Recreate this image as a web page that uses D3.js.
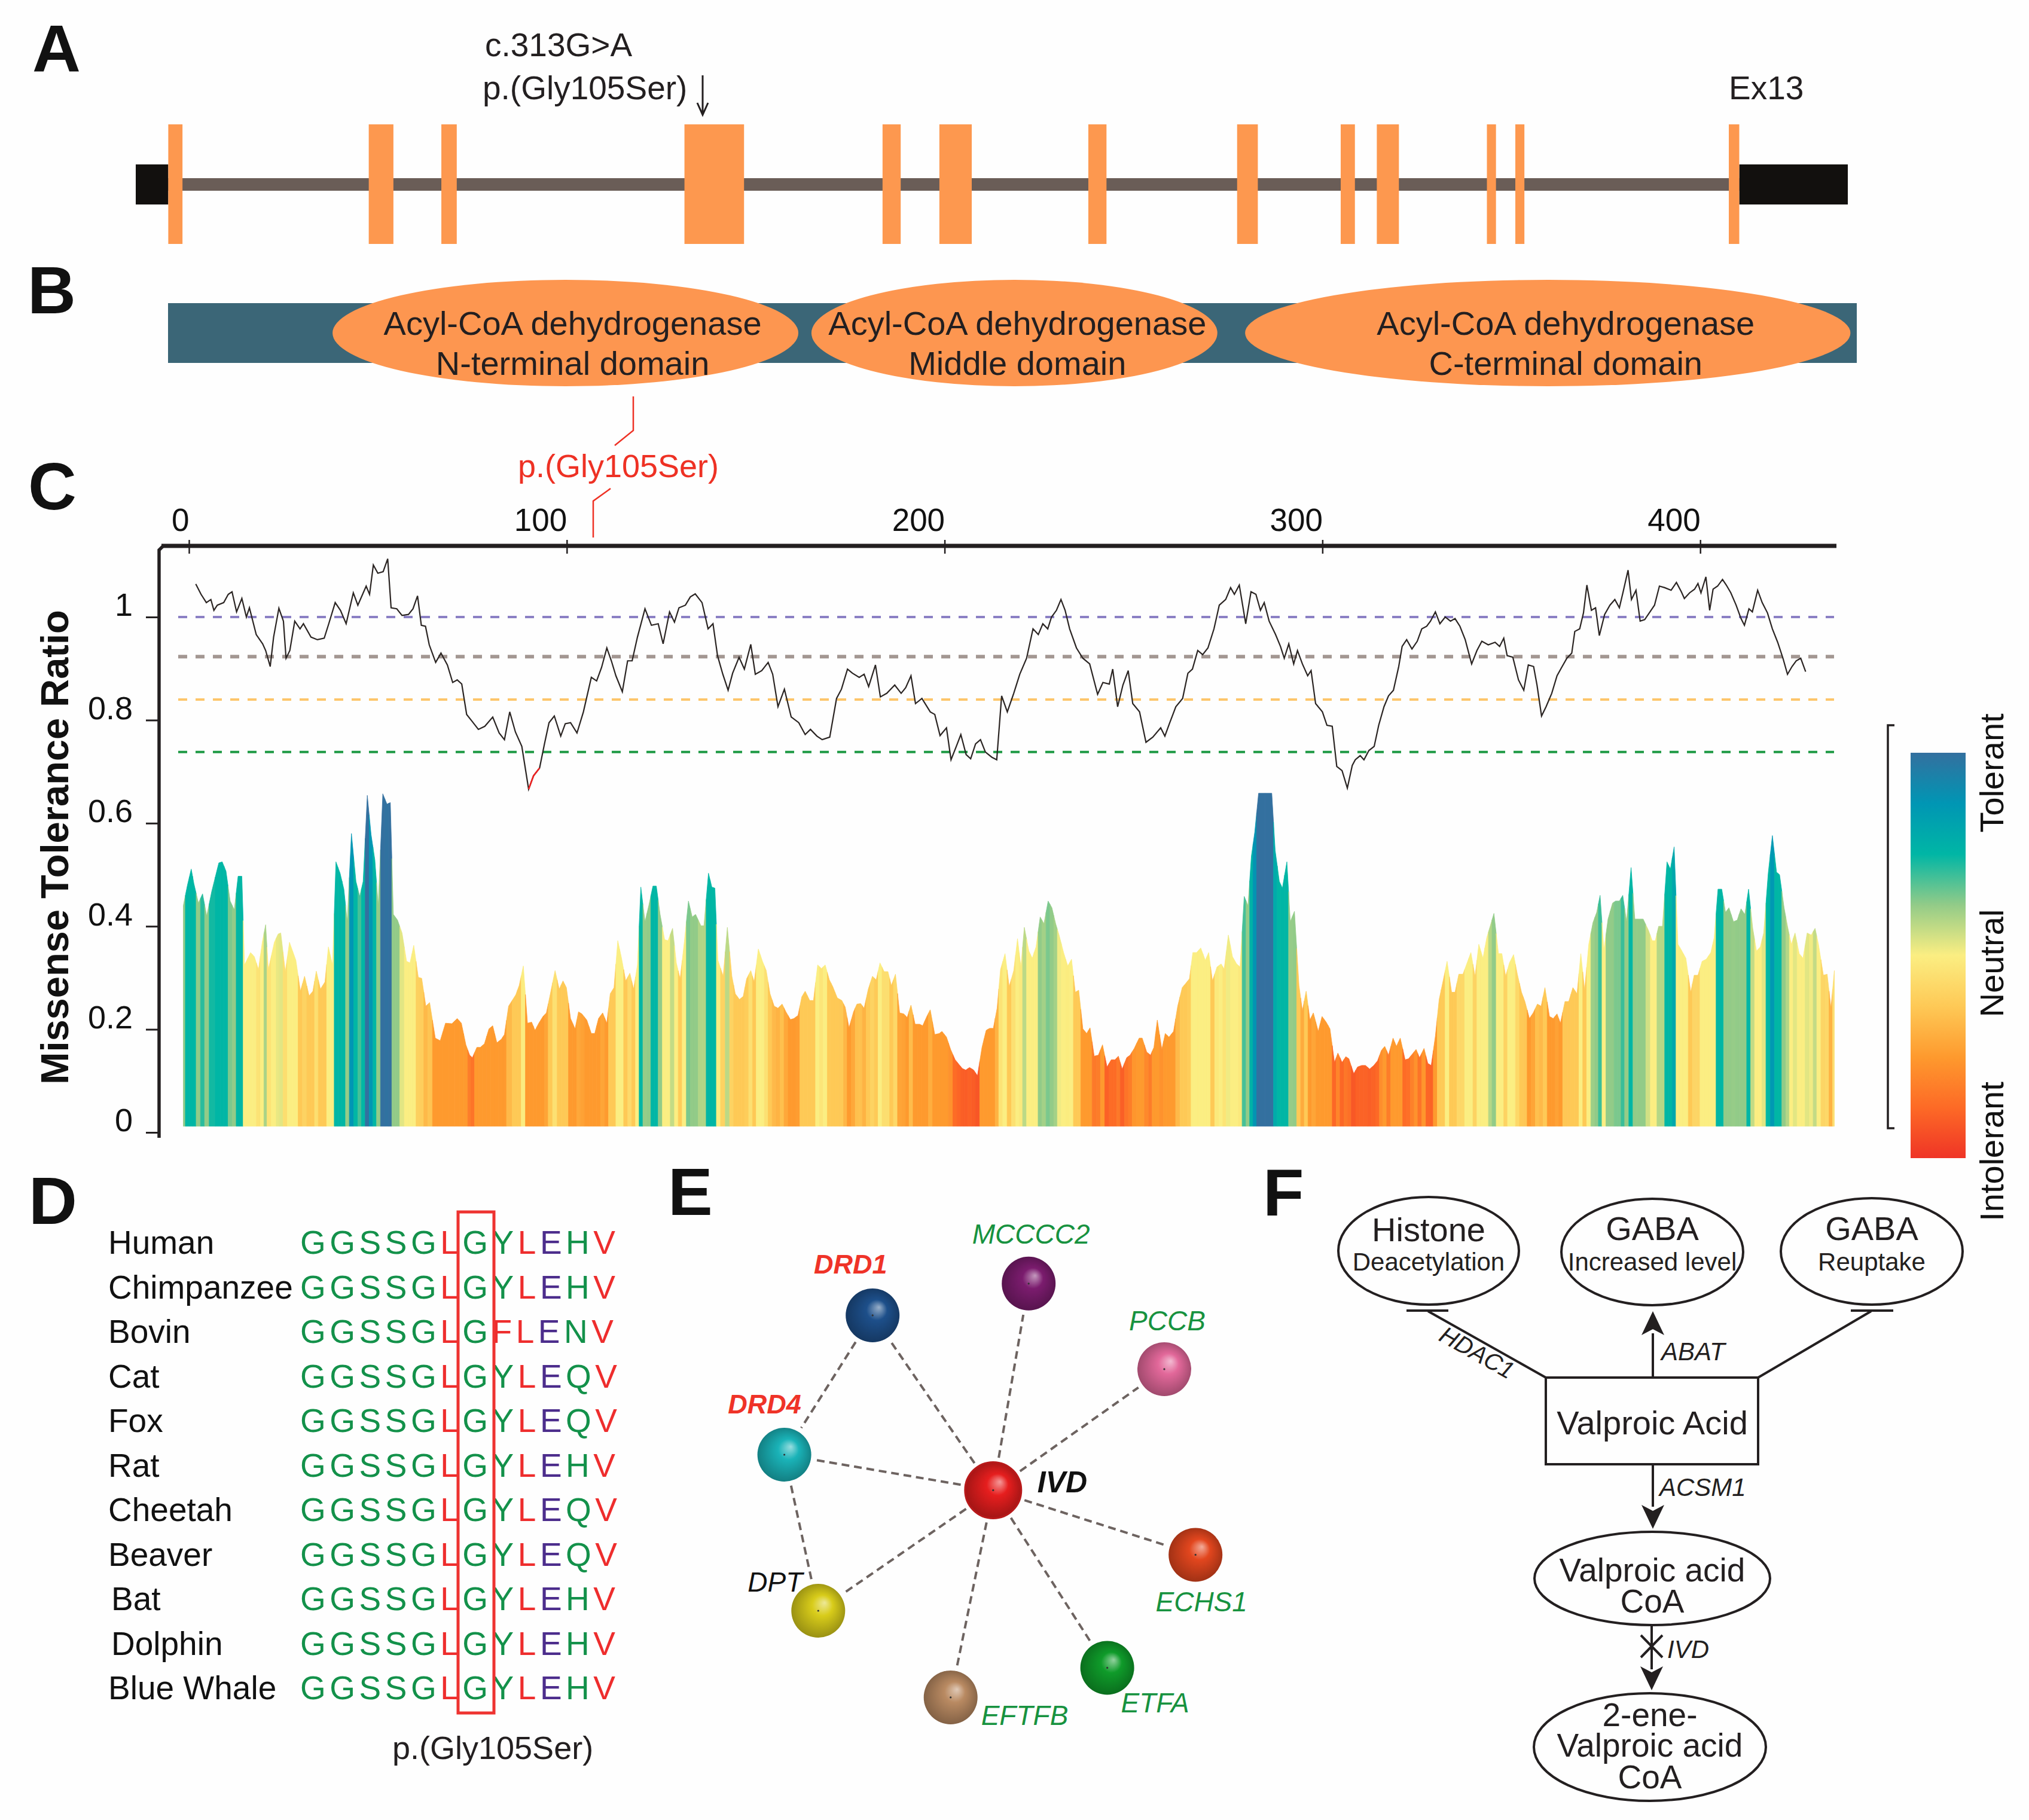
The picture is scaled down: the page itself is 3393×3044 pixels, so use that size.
<!DOCTYPE html>
<html>
<head>
<meta charset="utf-8">
<script src="https://cdn.jsdelivr.net/npm/d3@7"></script>
<style>
  body { margin: 0; background: #fefefe; overflow: hidden; }
  svg { display: block; }
</style>
</head>
<body>
<svg id="fig" width="3393" height="3044"></svg>
<script>
// ---------- data ----------

// A: gene model, positions in % of gene length
const exons = [[1.90,2.73],[13.61,15.05],[17.85,18.75],[32.05,35.53],[43.62,44.68],[46.94,48.83],
  [55.64,56.70],[64.33,65.54],[70.38,71.21],[72.49,73.78],[78.92,79.45],[80.58,81.11],[93.05,93.66]];
const utrs = [[0,1.90],[93.66,100]];

// B: protein domains (residues)
const domainStart = [41.5, 162.3, 271.7];
const domainEnd = [159.0, 264.7, 424.4];
const domainNames = ['N-terminal domain', 'Middle domain', 'C-terminal domain'];

// C: reference lines, MTR sliding line and per-residue MTR bars
const refValues = [1.0, 0.923, 0.84, 0.738];
const refColors = ['#8b80c4', '#a39792', '#fdc56a', '#1f9a45'];
const xTicks = [0, 100, 200, 300, 400];
const yTicks = [0, 0.2, 0.4, 0.6, 0.8, 1];

const mtrLine = [[1.8,1.064],[3.2,1.044],[4.6,1.028],[5.8,1.034],[6.6,1.013],[7.5,1.023],[9.2,1.028],[10.4,1.044],[11.4,1.049],[12.6,1.010],[14,1.036],[15.2,1.0],[16,1.018],[17.8,0.966],[19.5,0.948],[20.3,0.935],[21.5,0.904],[22.4,0.961],[23.8,1.017],[25,0.992],[25.7,0.920],[26.7,0.935],[28,0.992],[29.4,0.977],[30.3,0.987],[32.3,0.961],[34,0.956],[35.8,0.959],[37,0.987],[38.7,1.028],[40.1,1.013],[41.6,0.987],[43.5,1.047],[44.7,1.023],[46.9,1.060],[47.8,1.044],[48.8,1.101],[50,1.085],[51.4,1.088],[52.6,1.113],[53.5,1.018],[55,1.016],[56.4,1.003],[58.1,1.005],[59.3,1.016],[60.5,1.041],[61.5,0.984],[62.6,0.982],[63.6,0.946],[65.3,0.912],[66.7,0.930],[68.4,0.907],[69.8,0.873],[71,0.878],[72.2,0.870],[73.5,0.811],[74.9,0.798],[76.6,0.782],[78.3,0.788],[80.4,0.806],[82.1,0.775],[83.5,0.762],[84.9,0.816],[86.4,0.777],[88.1,0.749],[89.9,0.666],[91.2,0.692],[92.8,0.707],[94.1,0.754],[95.3,0.795],[96.7,0.808],[98.4,0.769],[99.6,0.793],[101,0.795],[102.7,0.775],[104.4,0.816],[106.5,0.883],[107.9,0.876],[109.2,0.902],[110.6,0.940],[111.8,0.915],[113,0.886],[114.7,0.855],[116.1,0.915],[117.3,0.915],[118.7,0.961],[120.7,1.016],[122.4,0.984],[124.2,0.987],[125.5,0.948],[127.2,1.010],[128.5,0.990],[129.7,1.018],[131.4,1.023],[132.7,1.039],[134,1.045],[135.8,1.028],[137.4,0.977],[138.7,0.987],[139.9,0.925],[141.3,0.889],[142.7,0.858],[143.9,0.891],[145.6,0.922],[147,0.899],[148.7,0.947],[149.9,0.889],[151.6,0.896],[153.3,0.912],[154.5,0.889],[155.9,0.826],[157.6,0.860],[159.4,0.806],[161.4,0.795],[163.1,0.772],[164.5,0.782],[166.2,0.769],[167.6,0.762],[169.6,0.767],[171.4,0.842],[172.7,0.860],[174.3,0.899],[175.6,0.891],[177.4,0.883],[178.7,0.889],[179.9,0.865],[181.7,0.907],[183,0.845],[184.7,0.852],[186.8,0.868],[188.5,0.852],[189.7,0.863],[191.1,0.886],[192.3,0.832],[194,0.842],[196.2,0.816],[197.4,0.811],[198.8,0.770],[200.5,0.785],[201.7,0.723],[203.1,0.749],[204.3,0.772],[205.7,0.733],[206.9,0.725],[208.2,0.754],[209.5,0.762],[210.8,0.738],[212.5,0.728],[213.8,0.723],[215.1,0.847],[216.6,0.816],[218.3,0.852],[219.9,0.889],[221.7,0.920],[223.4,0.977],[224.8,0.966],[226,0.987],[227.3,0.977],[228.3,1.0],[229.6,1.013],[230.8,1.034],[231.9,1.013],[233.1,0.977],[234.9,0.940],[236.6,0.920],[238.4,0.909],[240.5,0.850],[241.9,0.873],[243.6,0.870],[244.5,0.899],[245.8,0.826],[247.2,0.868],[248.6,0.896],[249.8,0.832],[251.6,0.816],[253.3,0.757],[255.1,0.767],[257.2,0.785],[258.3,0.769],[259.5,0.793],[261.2,0.826],[263,0.842],[264.4,0.891],[265.6,0.899],[267,0.935],[268.3,0.927],[269.7,0.940],[271.3,0.977],[272.7,1.023],[274.4,1.034],[275.7,1.057],[276.7,1.044],[278,1.062],[279.7,0.987],[281.1,1.049],[282.4,1.044],[283.6,1.013],[284.6,1.028],[285.9,0.992],[287.6,0.966],[288.9,0.943],[289.9,0.920],[291.1,0.948],[292.4,0.909],[293.4,0.935],[294.7,0.909],[296.1,0.886],[297,0.896],[298.2,0.832],[300,0.816],[301.2,0.790],[302.6,0.788],[303.8,0.710],[305.2,0.702],[306.6,0.668],[307.9,0.712],[308.7,0.723],[310,0.731],[311,0.723],[312.3,0.741],[313.7,0.749],[314.9,0.790],[316.3,0.826],[317.5,0.847],[318.8,0.858],[320.2,0.904],[321.1,0.943],[322.3,0.956],[323.7,0.938],[325.1,0.953],[326.3,0.977],[327.6,0.982],[328.6,0.992],[329.9,1.010],[331.1,0.987],[332.5,1.0],[333.9,0.992],[335.1,0.997],[336.4,0.982],[337.8,0.956],[339.5,0.909],[340.9,0.935],[342.2,0.953],[343.9,0.946],[345.7,0.951],[346.9,0.943],[348,0.959],[348.9,0.925],[350.4,0.922],[351.9,0.878],[353.3,0.858],[354.5,0.907],[355.9,0.904],[356.8,0.868],[358,0.808],[359.2,0.826],[360.7,0.852],[362.1,0.886],[363.3,0.902],[364.7,0.920],[366,0.930],[366.8,0.972],[368.1,0.977],[369.1,1.008],[370,1.062],[371.2,1.013],[372.3,1.018],[373.3,0.964],[374.7,1.005],[376.1,1.023],[377.4,1.034],[378.6,1.018],[379.6,1.049],[380.9,1.091],[381.8,1.034],[383,1.052],[384.1,0.992],[385.3,0.995],[386.7,1.010],[387.9,1.023],[389.2,1.060],[390.6,1.057],[392.3,1.052],[393.7,1.067],[395,1.049],[395.8,1.036],[397.2,1.047],[398.5,1.054],[399.4,1.065],[400.2,1.047],[401.5,1.078],[402.5,1.013],[403.4,1.054],[404.6,1.060],[405.9,1.073],[406.9,1.062],[408.1,1.047],[409.5,1.023],[410.8,0.997],[411.7,0.984],[412.9,1.016],[413.8,1.010],[415.2,1.052],[416.4,1.028],[417.8,1.008],[419.1,0.977],[420.5,0.951],[421.9,0.920],[423.1,0.889],[424.3,0.904],[425.4,0.915],[426.6,0.920],[427.9,0.894]];
const variantStretch = [89.9, 92.8]; // part of the line drawn in red

const mtrBars = [[-1.5,0.440],[-0.4,0.480],[0.6,0.511],[1.3,0.483],[2.5,0.445],[3.6,0.463],[4.7,0.420],[6.0,0.467],[7.9,0.523],[8.8,0.525],[9.8,0.507],[10.9,0.449],[12.0,0.432],[13.0,0.497],[14.0,0.497],[14.7,0.325],[16.3,0.349],[17.3,0.341],[18.4,0.316],[19.4,0.369],[20.3,0.403],[21.0,0.316],[22.6,0.369],[23.6,0.385],[24.3,0.387],[25.5,0.312],[26.6,0.369],[28.3,0.334],[29.5,0.274],[30.6,0.303],[31.8,0.265],[32.8,0.274],[33.7,0.313],[34.8,0.278],[36.0,0.292],[36.9,0.360],[38.0,0.325],[38.9,0.525],[40.0,0.503],[41.0,0.472],[41.9,0.409],[43.0,0.580],[44.2,0.487],[45.2,0.458],[46.1,0.487],[47.2,0.654],[48.2,0.578],[49.2,0.529],[50.1,0.440],[51.3,0.657],[52.4,0.637],[53.3,0.640],[54.1,0.423],[55.2,0.412],[56.4,0.387],[57.6,0.332],[58.5,0.329],[59.5,0.363],[60.7,0.301],[61.6,0.299],[62.7,0.245],[63.7,0.252],[65.2,0.183],[66.5,0.178],[67.9,0.212],[69.6,0.211],[71.0,0.221],[72.1,0.212],[73.3,0.170],[74.3,0.150],[75.0,0.145],[76.2,0.165],[77.1,0.165],[78.2,0.172],[79.4,0.201],[80.4,0.207],[81.5,0.174],[82.7,0.181],[83.5,0.190],[84.6,0.245],[86.5,0.267],[87.4,0.285],[88.5,0.323],[89.6,0.212],[90.7,0.214],[91.6,0.198],[92.6,0.212],[93.7,0.225],[94.6,0.232],[95.6,0.267],[96.9,0.314],[98.0,0.278],[99.0,0.294],[99.9,0.281],[101.0,0.221],[102.2,0.201],[103.1,0.234],[104.0,0.230],[105.3,0.218],[106.5,0.192],[107.4,0.192],[108.4,0.221],[109.5,0.232],[110.6,0.212],[111.5,0.269],[112.5,0.281],[113.5,0.372],[114.5,0.338],[115.6,0.294],[116.7,0.309],[117.7,0.278],[118.7,0.325],[119.6,0.476],[120.7,0.409],[121.7,0.440],[122.8,0.478],[123.7,0.478],[124.7,0.423],[125.9,0.374],[126.8,0.372],[128.0,0.396],[129.0,0.329],[130.0,0.298],[131.1,0.369],[132.2,0.449],[133.2,0.418],[134.1,0.423],[135.5,0.401],[136.3,0.401],[137.5,0.503],[138.4,0.476],[139.2,0.474],[140.0,0.334],[141.4,0.303],[142.5,0.398],[143.7,0.303],[144.6,0.269],[145.7,0.258],[146.7,0.264],[147.6,0.298],[148.7,0.314],[149.6,0.292],[150.7,0.356],[151.8,0.332],[152.8,0.314],[153.8,0.269],[154.9,0.245],[155.9,0.241],[157.0,0.249],[158.0,0.234],[159.2,0.219],[160.1,0.221],[161.2,0.227],[162.2,0.263],[163.1,0.274],[164.3,0.256],[165.3,0.256],[166.4,0.325],[167.4,0.318],[168.4,0.325],[169.5,0.296],[170.4,0.283],[171.6,0.261],[172.8,0.256],[173.7,0.243],[174.7,0.203],[175.9,0.234],[176.8,0.249],[177.8,0.250],[178.7,0.241],[179.8,0.278],[180.9,0.303],[181.9,0.296],[182.9,0.329],[184.0,0.312],[185.0,0.312],[185.9,0.285],[187.0,0.307],[188.1,0.232],[189.2,0.230],[190.1,0.223],[191.1,0.247],[192.2,0.210],[193.4,0.210],[194.2,0.207],[195.3,0.225],[196.2,0.238],[197.4,0.190],[198.6,0.192],[199.3,0.196],[200.5,0.185],[201.6,0.161],[202.8,0.141],[203.8,0.132],[204.7,0.124],[205.6,0.121],[206.6,0.126],[207.7,0.121],[208.7,0.110],[209.9,0.165],[211.0,0.198],[211.9,0.202],[212.9,0.202],[213.9,0.241],[214.8,0.316],[216.0,0.347],[217.1,0.283],[218.3,0.314],[219.3,0.376],[220.2,0.321],[221.1,0.398],[222.3,0.352],[223.2,0.338],[224.2,0.360],[225.3,0.418],[226.3,0.405],[227.4,0.449],[228.4,0.436],[229.4,0.405],[230.3,0.383],[231.5,0.349],[232.6,0.323],[233.6,0.336],[234.6,0.272],[235.5,0.276],[236.6,0.201],[237.6,0.192],[238.5,0.203],[239.6,0.148],[240.7,0.150],[241.8,0.170],[243.0,0.127],[244.1,0.141],[245.1,0.141],[246.0,0.148],[247.0,0.123],[248.2,0.145],[249.1,0.150],[250.2,0.163],[251.5,0.183],[252.3,0.183],[253.5,0.156],[254.5,0.150],[255.4,0.165],[256.3,0.218],[257.5,0.161],[258.4,0.192],[259.4,0.185],[260.6,0.196],[261.7,0.245],[262.9,0.281],[263.8,0.289],[264.8,0.298],[265.7,0.349],[266.7,0.349],[267.8,0.358],[269.0,0.334],[269.9,0.349],[270.9,0.294],[272.1,0.321],[273.2,0.327],[274.0,0.317],[275.1,0.383],[276.2,0.341],[277.3,0.327],[278.2,0.321],[279.3,0.458],[280.3,0.440],[281.2,0.536],[282.1,0.583],[283.1,0.658],[286.6,0.658],[287.5,0.547],[288.6,0.487],[289.4,0.474],[290.6,0.525],[291.5,0.409],[292.6,0.429],[293.8,0.285],[294.7,0.236],[295.7,0.274],[296.7,0.218],[297.6,0.232],[298.9,0.196],[299.9,0.225],[301.0,0.214],[302.0,0.201],[303.2,0.136],[304.1,0.154],[305.2,0.136],[306.2,0.147],[307.0,0.143],[308.3,0.114],[309.3,0.127],[310.4,0.130],[311.4,0.130],[312.5,0.123],[313.6,0.130],[314.6,0.139],[315.6,0.159],[316.5,0.167],[317.5,0.150],[318.7,0.183],[319.6,0.167],[320.6,0.183],[321.9,0.141],[322.8,0.143],[323.8,0.152],[324.8,0.161],[325.7,0.145],[326.9,0.163],[327.9,0.134],[328.8,0.130],[329.9,0.187],[330.9,0.258],[332.0,0.296],[333.0,0.332],[334.2,0.272],[335.1,0.272],[336.1,0.307],[337.2,0.307],[338.1,0.325],[339.3,0.349],[340.4,0.303],[341.4,0.365],[342.5,0.338],[343.5,0.378],[344.4,0.400],[345.4,0.425],[346.6,0.347],[347.5,0.347],[348.5,0.303],[349.5,0.329],[350.6,0.345],[351.6,0.307],[352.7,0.272],[353.6,0.254],[354.8,0.221],[355.8,0.232],[356.9,0.249],[357.9,0.245],[358.9,0.281],[360.1,0.225],[361.1,0.221],[362.1,0.230],[363.0,0.212],[364.2,0.254],[365.2,0.254],[366.3,0.281],[367.4,0.269],[368.4,0.347],[369.4,0.276],[370.5,0.365],[371.6,0.407],[372.6,0.427],[373.5,0.460],[374.5,0.354],[375.6,0.414],[376.8,0.445],[377.6,0.449],[378.6,0.449],[379.5,0.460],[380.5,0.409],[381.7,0.514],[382.7,0.414],[383.9,0.414],[384.9,0.414],[386.3,0.392],[387.3,0.372],[388.1,0.372],[389.0,0.400],[390.0,0.400],[391.2,0.525],[392.1,0.511],[393.1,0.554],[394.1,0.365],[395.0,0.354],[396.2,0.338],[397.5,0.272],[398.4,0.305],[399.4,0.305],[400.5,0.332],[401.6,0.336],[402.8,0.349],[403.7,0.378],[404.7,0.472],[405.7,0.472],[406.7,0.427],[407.6,0.436],[408.8,0.409],[409.8,0.412],[410.8,0.434],[411.8,0.423],[412.8,0.472],[413.9,0.396],[414.9,0.352],[415.9,0.360],[416.8,0.387],[418.0,0.503],[419.1,0.576],[420.2,0.505],[421.0,0.500],[422.2,0.436],[423.1,0.400],[424.1,0.365],[425.1,0.387],[426.2,0.347],[427.2,0.338],[428.3,0.387],[429.4,0.383],[430.4,0.396],[431.3,0.365],[432.6,0.305],[433.6,0.307],[434.6,0.241],[435.5,0.314]];
const barFloor = 0.012;

// colour ramp (intolerant -> tolerant), used by the legend
const mtrColors = ['#ef3426', '#fd6a26', '#fe9a2e', '#fec956', '#fbee82', '#92cb88', '#00b6a5', '#0096b4', '#33709f'];
// value -> index into mtrColors for the bars (repeated indices give flat colour bands)
const barStops = [0.06, 0.14, 0.165, 0.225, 0.255, 0.295, 0.325, 0.38, 0.41, 0.445, 0.47, 0.53, 0.58, 0.64];
const barStopColor = [0, 1, 2, 2, 3, 3, 4, 4, 5, 5, 6, 6, 7, 8];
const legendLabels = ['Intolerant', 'Neutral', 'Tolerant'];

// D: alignment
const species = ['Human','Chimpanzee','Bovin','Cat','Fox','Rat','Cheetah','Beaver','Bat','Dolphin','Blue Whale'];
const sequences = ['GGSSGLGYLEHV','GGSSGLGYLEHV','GGSSGLGFLENV','GGSSGLGYLEQV','GGSSGLGYLEQV','GGSSGLGYLEHV',
  'GGSSGLGYLEQV','GGSSGLGYLEQV','GGSSGLGYLEHV','GGSSGLGYLEHV','GGSSGLGYLEHV'];
const aaColor = {G:'#13914a', S:'#13914a', Y:'#13914a', H:'#13914a', Q:'#13914a', N:'#13914a',
  L:'#ee2d2d', V:'#ee2d2d', F:'#ee2d2d', E:'#4c2d8c'};

// E: interaction network (layout units 0-100)
const genes = ['IVD','DRD1','MCCCC2','PCCB','DRD4','ECHS1','DPT','ETFA','EFTFB'];
const geneXY = [[51.2,43.6],[28.8,11.1],[57.8,5.2],[83.0,21.1],[12.4,37.0],[88.8,55.6],[18.7,66.0],[72.4,76.6],[43.3,82.1]];
const geneColors = ['#e61e1e','#1d4f8a','#7b1c6e','#e2689a','#1ab3b8','#e2461e','#d8cc1a','#0f9b2a','#b98a62'];
const geneGroup = ['query','red','green','green','red','green','black','green','green'];
const links = [['IVD','DRD1'],['IVD','MCCCC2'],['IVD','PCCB'],['IVD','DRD4'],['IVD','ECHS1'],['IVD','DPT'],
  ['IVD','ETFA'],['IVD','EFTFB'],['DRD1','DRD4'],['DRD4','DPT']];

// ---------- drawing ----------
const FONT = '"Liberation Sans", Arial, Helvetica, sans-serif';
const INK = '#231f20';
const svg = d3.select('#fig').attr('font-family', FONT);
svg.append('rect').attr('width', 3393).attr('height', 3044).attr('fill', '#fefefe');
const defs = svg.append('defs');

function txt(g, s, x, y, size, opts = {}) {
  return g.append('text').attr('x', x).attr('y', y).attr('font-size', size)
    .attr('fill', opts.fill || INK).attr('text-anchor', opts.anchor || 'start')
    .attr('font-weight', opts.weight || 'normal').attr('font-style', opts.style || 'normal')
    .text(s);
}

// panel letters
[['A',54,120],['B',46,524],['C',47,852],['D',48,2047],['E',1117,2032],['F',2112,2033]]
  .forEach(([l, x, y]) => txt(svg, l, x, y, 112, {weight: 'bold', fill: '#111'}));

// ---- A: gene structure ----
const gx = d3.scaleLinear().domain([0, 100]).range([227, 3090]);
const gA = svg.append('g');
gA.append('rect').attr('x', gx(utrs[0][1])).attr('width', gx(utrs[1][0]) - gx(utrs[0][1]))
  .attr('y', 298).attr('height', 21).attr('fill', '#6a5d57');
gA.selectAll('.utr').data(utrs).join('rect')
  .attr('x', d => gx(d[0])).attr('width', d => gx(d[1]) - gx(d[0]))
  .attr('y', 275).attr('height', 67).attr('fill', '#12100e');
gA.selectAll('.exon').data(exons).join('rect')
  .attr('x', d => gx(d[0])).attr('width', d => gx(d[1]) - gx(d[0]))
  .attr('y', 208).attr('height', 200).attr('fill', '#fd984f');
txt(gA, 'c.313G>A', 811, 94, 55);
txt(gA, 'p.(Gly105Ser)', 807, 166, 55);
txt(gA, 'Ex13', 2891, 166, 55);
gA.append('path').attr('d', 'M1175,126 V190 M1166,172 L1175,192 L1184,172')
  .attr('stroke', INK).attr('stroke-width', 3).attr('fill', 'none');

// ---- B: protein domains ----
const px = d3.scaleLinear().domain([0, 426]).range([281, 3105]);
const gB = svg.append('g');
const labelShift = [12, 5, 30];
gB.append('rect').attr('x', px(0)).attr('width', px(426) - px(0)).attr('y', 507).attr('height', 100).attr('fill', '#3b6677');
domainStart.forEach((s, i) => {
  const cx = (px(s) + px(domainEnd[i])) / 2, rx = (px(domainEnd[i]) - px(s)) / 2;
  gB.append('ellipse').attr('cx', cx).attr('cy', 557).attr('rx', rx).attr('ry', 89).attr('fill', '#fd9650');
  txt(gB, 'Acyl-CoA dehydrogenase', cx + labelShift[i], 560, 56, {anchor: 'middle'});
  txt(gB, domainNames[i], cx + labelShift[i], 627, 56, {anchor: 'middle'});
});
// variant leader
gB.append('path').attr('d', 'M1059,663 V720 L1028,745 M1021,817 L992,838 V899')
  .attr('stroke', '#ee3124').attr('stroke-width', 2.5).attr('fill', 'none');
txt(gB, 'p.(Gly105Ser)', 1034, 798, 54, {anchor: 'middle', fill: '#ee3124'});

// ---- C: missense tolerance ----
const x = d3.scaleLinear().domain([0, 436]).range([316, 316 + 436 * 6.318]);
const y = d3.scaleLinear().domain([0, 1]).range([1894, 1032]);
const barColor = d3.scaleLinear().domain(barStops).range(barStopColor.map(i => mtrColors[i])).clamp(true);
const gC = svg.append('g');

// coloured bars: each residue owns the band between its neighbours' midpoints
const base = y(barFloor);
const bands = mtrBars.map((d, i) => {
  const prev = mtrBars[i - 1] || d, next = mtrBars[i + 1] || d;
  const xl = (x(prev[0]) + x(d[0])) / 2, yl = (y(prev[1]) + y(d[1])) / 2;
  const xr = (x(next[0]) + x(d[0])) / 2, yr = (y(next[1]) + y(d[1])) / 2;
  return {v: d[1], path: `M${xl},${base}L${xl},${yl}L${x(d[0])},${y(d[1])}L${xr},${yr}L${xr},${base}Z`};
});
gC.append('g').selectAll('path').data(bands).join('path')
  .attr('d', d => d.path).attr('fill', d => barColor(d.v))
  .attr('stroke', d => barColor(d.v)).attr('stroke-width', 0.8);

// dashed reference lines
gC.selectAll('.ref').data(refValues).join('line')
  .attr('x1', 298).attr('x2', 3067).attr('y1', d => y(d)).attr('y2', d => y(d))
  .attr('stroke', (d, i) => refColors[i]).attr('stroke-width', (d, i) => i === 1 ? 6 : 4)
  .attr('stroke-dasharray', '15,14');

const line = d3.line().x(d => x(d[0])).y(d => y(d[1]));
gC.append('path').datum(mtrLine).attr('d', line).attr('fill', 'none').attr('stroke', '#2b2523').attr('stroke-width', 2.2);
gC.append('path').datum(mtrLine.filter(d => d[0] >= variantStretch[0] && d[0] <= variantStretch[1]))
  .attr('d', line).attr('fill', 'none').attr('stroke', '#ee2222').attr('stroke-width', 2.6);

// axes
gC.append('path').attr('d', 'M266,1903 V920 L273,913').attr('fill', 'none').attr('stroke', INK).attr('stroke-width', 5.5);
gC.append('path').attr('d', 'M270,913 H3071').attr('fill', 'none').attr('stroke', INK).attr('stroke-width', 7);

const gTop = gC.append('g').attr('transform', 'translate(0,913)')
  .call(d3.axisTop(x).tickValues(xTicks).tickSize(-13).tickPadding(25));
gTop.select('.domain').remove();
gTop.attr('font-family', FONT).attr('font-size', 53);
gTop.selectAll('.tick line').attr('y1', -10).attr('stroke', INK).attr('stroke-width', 2.5);
gTop.selectAll('.tick text').attr('text-anchor', 'end').attr('fill', '#111');

const gLeft = gC.append('g').attr('transform', 'translate(266,0)')
  .call(d3.axisLeft(y).tickValues(yTicks).tickSize(22).tickPadding(22)
    .tickFormat(d => (d === 0 || d === 1) ? d3.format('d')(d) : d3.format('.1f')(d)));
gLeft.select('.domain').remove();
gLeft.attr('font-family', FONT).attr('font-size', 54);
gLeft.selectAll('.tick line').attr('stroke', INK).attr('stroke-width', 3);
gLeft.selectAll('.tick text').attr('dy', '-0.04em').attr('fill', '#111');

txt(gC, 'Missense Tolerance Ratio', 0, 0, 65, {anchor: 'middle', weight: 'bold', fill: '#111'})
  .attr('transform', 'translate(114,1417) rotate(-90)');

// colour bar
const grad = defs.append('linearGradient').attr('id', 'mtrGrad').attr('x1', 0).attr('y1', 1).attr('x2', 0).attr('y2', 0);
grad.selectAll('stop').data(mtrColors).join('stop')
  .attr('offset', (d, i) => i / (mtrColors.length - 1)).attr('stop-color', d => d);
gC.append('rect').attr('x', 3195).attr('y', 1259).attr('width', 92).attr('height', 678).attr('fill', 'url(#mtrGrad)');
gC.append('path').attr('d', 'M3168,1213 H3157 V1887 H3168').attr('fill', 'none').attr('stroke', INK).attr('stroke-width', 3.5);
[1926, 1611, 1293].forEach((cy, i) =>
  txt(gC, legendLabels[i], 0, 0, 56, {anchor: 'middle', fill: '#111'})
    .attr('transform', `translate(3350,${cy}) rotate(-90)`));

// ---- D: alignment ----
const gD = svg.append('g');
const rowY = d3.scaleLinear().domain([0, species.length - 1]).range([2097, 2842]);
species.forEach((s, i) => {
  txt(gD, s, (s === 'Bat' || s === 'Dolphin') ? 186 : 181, rowY(i), 55, {fill: '#111'});
  const t = gD.append('text').attr('x', 502).attr('y', rowY(i)).attr('font-size', 55).attr('letter-spacing', 6.5);
  t.selectAll('tspan').data(sequences[i].split('')).join('tspan').attr('fill', c => aaColor[c]).text(c => c);
});
gD.append('rect').attr('x', 766).attr('y', 2027).attr('width', 60).attr('height', 838)
  .attr('fill', 'none').attr('stroke', '#ee3331').attr('stroke-width', 5);
txt(gD, 'p.(Gly105Ser)', 656, 2942, 54);

// ---- E: network ----
const ex = d3.scaleLinear().domain([0, 100]).range([1200, 2100]);
const ey = d3.scaleLinear().domain([0, 100]).range([2100, 3000]);
const gE = svg.append('g');
const nodes = genes.map((g, i) => ({id: g, x: ex(geneXY[i][0]), y: ey(geneXY[i][1]), c: geneColors[i], grp: geneGroup[i], r: g === 'IVD' ? 47 : 45}));
const byId = Object.fromEntries(nodes.map(n => [n.id, n]));
links.forEach(([a, b]) => {
  const s = byId[a], t = byId[b];
  const dx = t.x - s.x, dy = t.y - s.y, L = Math.hypot(dx, dy);
  const o1 = s.r + 8, o2 = t.r + 8;
  gE.append('line')
    .attr('x1', s.x + dx * o1 / L).attr('y1', s.y + dy * o1 / L)
    .attr('x2', t.x - dx * o2 / L).attr('y2', t.y - dy * o2 / L)
    .attr('stroke', '#6d6360').attr('stroke-width', 4).attr('stroke-dasharray', '13,8');
});
nodes.forEach((n, i) => {
  const base = d3.color(n.c);
  const g = defs.append('radialGradient').attr('id', 'sph' + i).attr('cx', 0.5).attr('cy', 0.5).attr('r', 0.55)
    .attr('fx', 0.62).attr('fy', 0.35);
  g.append('stop').attr('offset', 0).attr('stop-color', d3.interpolateRgb(base, '#fff')(0.55));
  g.append('stop').attr('offset', 0.35).attr('stop-color', base.formatHex());
  g.append('stop').attr('offset', 1).attr('stop-color', base.darker(1.1).formatHex());
  gE.append('circle').attr('cx', n.x).attr('cy', n.y).attr('r', n.r).attr('fill', `url(#sph${i})`)
    .attr('stroke', n.id === 'IVD' ? '#b8191a' : 'none').attr('stroke-width', 3);
  gE.append('circle').attr('cx', n.x).attr('cy', n.y).attr('r', 1.6).attr('fill', '#333');
});
const labelOff = {IVD: [74, 4, 'start'], DRD1: [-37, -70, 'middle'], MCCCC2: [4, -67, 'middle'], PCCB: [5, -65, 'middle'],
  DRD4: [-33, -69, 'middle'], ECHS1: [10, 95, 'middle'], DPT: [-72, -32, 'middle'], ETFA: [23, 75, 'start'], EFTFB: [51, 46, 'start']};
const grpColor = {query: '#111', red: '#ef3328', green: '#17923f', black: '#111'};
nodes.forEach(n => {
  const [dx, dy, anchor] = labelOff[n.id];
  const bold = n.grp === 'red' || n.grp === 'query';
  txt(gE, n.id, n.x + dx, n.y + dy, n.id === 'IVD' ? 50 : (bold ? 45 : 46),
    {anchor, fill: grpColor[n.grp], weight: bold ? 'bold' : 'normal', style: 'italic'});
});

// ---- F: valproic acid pathway ----
const gF = svg.append('g');
const fNodes = [
  {cx: 2389, cy: 2092, rx: 151, ry: 90, lines: ['Histone', 'Deacetylation'], sizes: [56, 42], ys: [2076, 2125]},
  {cx: 2763, cy: 2094, rx: 152, ry: 89, lines: ['GABA', 'Increased level'], sizes: [56, 42], ys: [2074, 2125]},
  {cx: 3130, cy: 2093, rx: 152, ry: 89, lines: ['GABA', 'Reuptake'], sizes: [56, 42], ys: [2074, 2125]},
  {cx: 2763, cy: 2640, rx: 197, ry: 78, lines: ['Valproic acid', 'CoA'], sizes: [55, 55], ys: [2645, 2697]},
  {cx: 2759, cy: 2922, rx: 194, ry: 90, lines: ['2-ene-', 'Valproic acid', 'CoA'], sizes: [55, 55, 55], ys: [2887, 2938, 2991]}
];
fNodes.forEach(n => {
  gF.append('ellipse').attr('cx', n.cx).attr('cy', n.cy).attr('rx', n.rx).attr('ry', n.ry)
    .attr('fill', 'none').attr('stroke', INK).attr('stroke-width', 4);
  n.lines.forEach((l, i) => txt(gF, l, n.cx, n.ys[i], n.sizes[i], {anchor: 'middle'}));
});
gF.append('rect').attr('x', 2585).attr('y', 2304).attr('width', 355).attr('height', 145)
  .attr('fill', 'none').attr('stroke', INK).attr('stroke-width', 4);
txt(gF, 'Valproic Acid', 2763, 2399, 56, {anchor: 'middle'});

const stroke = sel => sel.attr('stroke', INK).attr('stroke-width', 4).attr('fill', 'none');
gF.append('path').attr('d', 'M2585,2304 L2388,2193 M2352,2192 H2422 M2940,2304 L3129,2193 M3095,2192 H3166').call(stroke);
gF.append('path').attr('d', 'M2764,2304 V2230 M2764,2449 V2520 M2762,2718 V2792 M2744,2735 L2780,2772 M2780,2735 L2744,2772').call(stroke);
const head = (tipX, tipY, dir) =>
  `M${tipX},${tipY} L${tipX - 19},${tipY - dir * 40} L${tipX},${tipY - dir * 30} L${tipX + 19},${tipY - dir * 40} Z`;
gF.append('path').attr('d', head(2764, 2193, -1) + head(2764, 2557, 1) + head(2762, 2827, 1)).attr('fill', INK);
txt(gF, 'HDAC1', 0, 14, 40, {anchor: 'middle', style: 'italic'}).attr('transform', 'translate(2470,2262) rotate(29.4)');
txt(gF, 'ABAT', 2778, 2275, 42, {style: 'italic'});
txt(gF, 'ACSM1', 2775, 2502, 42, {style: 'italic'});
txt(gF, 'IVD', 2788, 2773, 42, {style: 'italic'});
</script>
</body>
</html>
